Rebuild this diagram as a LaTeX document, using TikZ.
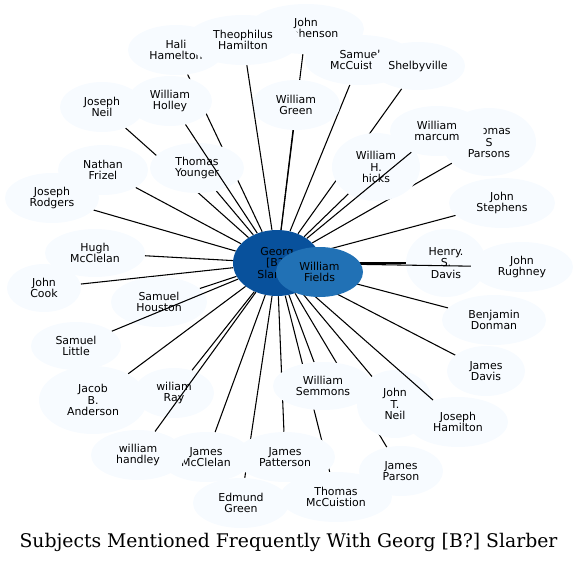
\documentclass[tikz,border=0pt]{standalone}
\usepackage{fontspec}
\setmainfont{DejaVu Sans}
\newfontfamily\titulo{DejaVu Serif}
\usepackage{tikz}
\usetikzlibrary{shapes.geometric}
\definecolor{azulosc}{HTML}{08519C}
\definecolor{azulmed}{HTML}{2171B5}
\definecolor{celeste}{HTML}{F7FBFF}
\pgfdeclarelayer{fondo}
\pgfdeclarelayer{frente}
\pgfdeclarelayer{centro}
\pgfsetlayers{fondo,main,frente,centro}
\tikzstyle{linea} = [line width=0.8pt, black]
\tikzstyle{persona} = [ellipse,
                       fill=celeste,
                       inner sep=0pt,
                       align=center,
                       font=\fontsize{8.2}{8.6}\selectfont]
\tikzstyle{dos} = [minimum height=37.5pt]
\tikzstyle{tres} = [minimum height=51pt]
\tikzstyle{central} = [persona, fill=azulosc]

\begin{document}
\begin{tikzpicture}[x=0.75pt, y=-0.75pt]
        \useasboundingbox (0,0) rectangle (577,564);

        \begin{pgfonlayer}{centro}
            \node (Georg) [central, minimum width=66pt, minimum height=49.5pt] at (277,263) {Georg\\{}[B?]\\ Slarber};
            \node (Fields) [central, fill=azulmed, dos, minimum width=65.25pt] at (319.5,272) {William\\ Fields};
        \end{pgfonlayer}

        \node (Hali) [persona, dos, minimum width=72pt] at (176,50) {Hali\\ Hamelton};
        \node (Stephenson) [persona, dos, minimum width=87pt] at (306,29) {John\\ Stephenson};
        \node (Theophilus) [persona, dos, minimum width=85.5pt] at (243,40) {Theophilus\\ Hamilton};
        \node (SamuelMc) [persona, dos, minimum width=82.5pt] at (360,60) {Samuel\\ McCuistion};
        \node (Shelbyville) [persona, minimum height=36pt, minimum width=70.5pt] at (418,66) {Shelbyville};
        \node (WGreen) [persona, dos, minimum width=66pt] at (296,105) {William\\ Green};
        \node (Holley) [persona, dos, minimum width=63pt] at (170,101) {William\\ Holley};
        \node (JNeil) [persona, dos, minimum width=63pt] at (102,107) {Joseph\\ Neil};
        \node (Frizel) [persona, dos, minimum width=67.5pt] at (103,170) {Nathan\\ Frizel};
        \node (Younger) [persona, dos, minimum width=70.5pt] at (197,168) {Thomas\\ Younger};
        \node (Rodgers) [persona, dos, minimum width=70.5pt] at (52,198) {Joseph\\ Rodgers};
        \node (Hugh) [persona, minimum height=36pt, minimum width=75pt] at (95,253) {Hugh\\ McClelan};
        \node (Hicks) [persona, tres, minimum width=66pt] at (376,167) {William\\ H.\\ hicks};
        \node (Parsons) [persona, tres, minimum width=70.5pt] at (489,142) {Thomas\\ S\\ Parsons};
        \node (Marcum) [persona, dos, minimum width=70.5pt] at (437,131) {William\\ marcum};
        \node (JStephens) [persona, dos, minimum width=79.5pt] at (502,203) {John\\ Stephens};
        \node (HDavis) [persona, tres, minimum width=60pt] at (446,263) {Henry.\\ S.\\ Davis};
        \node (Rughney) [persona, dos, minimum width=76.5pt] at (522,267) {John\\ Rughney};
        \node (Cook) [persona, minimum height=36pt, minimum width=55.5pt] at (44,288) {John\\ Cook};
        \node (Houston) [persona, dos, minimum width=72pt] at (159,302) {Samuel\\ Houston};
        \node (Little) [persona, minimum height=36pt, minimum width=67.5pt] at (76,346) {Samuel\\ Little};
        \node (Anderson) [persona, tres, minimum width=81pt] at (93,400) {Jacob\\ B.\\ Anderson};
        \node (Ray) [persona, dos, minimum width=60pt] at (174,393) {wiliam\\ Ray};
        \node (JMcClelan) [persona, dos, minimum width=69pt] at (206,457) {James\\ McClelan};
        \node (Handley) [persona, dos, minimum width=70.5pt] at (138,455) {william\\ handley};
        \node (Patterson) [persona, dos, minimum width=75pt] at (285,457) {James\\ Patterson};
        \node (Edmund) [persona, dos, minimum width=72pt] at (241,503) {Edmund\\ Green};
        \node (Semmons) [persona, minimum height=36pt, minimum width=75pt] at (323,386) {William\\ Semmons};
        \node (JohnTNeil) [persona, tres, minimum width=57pt] at (395,404) {John\\ T.\\ Neil};
        \node (Hamilton) [persona, dos, minimum width=75pt] at (458,422) {Joseph\\ Hamilton};
        \node (JParson) [persona, dos, minimum width=63pt] at (401,471) {James\\ Parson};
        \node (McCuistion) [persona, dos, minimum width=84pt] at (336,497) {Thomas\\ McCuistion};
        \node (JDavis) [persona, dos, minimum width=58.5pt] at (486,371) {James\\ Davis};
        \node (Donman) [persona, dos, minimum width=78pt] at (494,320) {Benjamin\\ Donman};

        \node (Titulo) at (288.5,542) {\titulo\fontsize{14.1}{16}\selectfont Subjects Mentioned Frequently With Georg [B?] Slarber};

        % aristas tapadas por otros nodos
        \begin{pgfonlayer}{fondo}
            \foreach \n in {Hali, JNeil, Stephenson, Parsons, Shelbyville, Edmund, Patterson,
                            McCuistion, JParson, SamuelMc, WGreen, Frizel, Rodgers, Hugh, Cook,
                            Houston, Anderson, Ray, JMcClelan, Semmons, JohnTNeil, JDavis,
                            Donman, JStephens, Hicks, HDavis, Younger}
                \draw [linea] (Georg) -- (\n);
        \end{pgfonlayer}

        % aristas encima de otros nodos
        \begin{pgfonlayer}{frente}
            \foreach \n in {Holley, Marcum, Rughney, Little, Handley, Hamilton, Theophilus}
                \draw [linea] (Georg) -- (\n);
        \end{pgfonlayer}
    \end{tikzpicture}
\end{document}
